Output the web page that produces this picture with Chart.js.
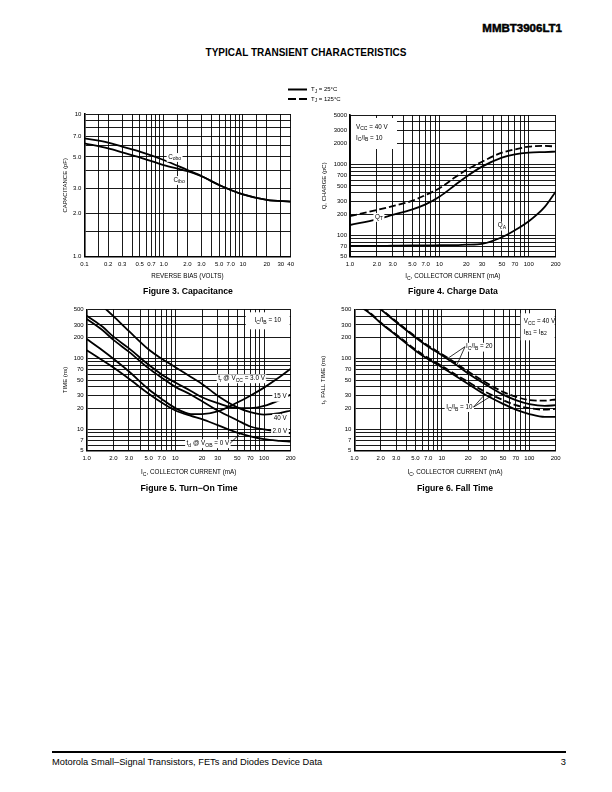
<!DOCTYPE html>
<html>
<head>
<meta charset="utf-8">
<script src="https://cdn.jsdelivr.net/npm/chart.js@4.4.1/dist/chart.umd.min.js"></script>
<style>
  html, body { margin: 0; padding: 0; background: #fff; }
  body { width: 612px; height: 792px; position: relative; overflow: hidden;
         font-family: "Liberation Sans", Arial, Helvetica, sans-serif; color: #000; }
  .txt { position: absolute; white-space: nowrap; line-height: 1; }
  canvas { position: absolute; }
</style>
</head>
<body>
<div class="txt" style="right:50px; top:22.5px; font-size:11.5px; font-weight:bold; -webkit-text-stroke:0.5px #000;">MMBT3906LT1</div>
<div class="txt" style="left:0; width:612px; text-align:center; top:48px; font-size:10px; font-weight:bold;">TYPICAL TRANSIENT CHARACTERISTICS</div>

<canvas id="legend" width="90" height="26" style="left:280px; top:82px;"></canvas>

<canvas id="cap" width="275" height="184" style="left:30px; top:100px;"></canvas>
<canvas id="charge" width="275" height="184" style="left:300px; top:100px;"></canvas>
<canvas id="turnon" width="275" height="180" style="left:30px; top:300px;"></canvas>
<canvas id="fall" width="275" height="180" style="left:300px; top:300px;"></canvas>

<div class="txt" style="left:88px; width:200px; text-align:center; top:287px; font-size:8.7px; font-weight:bold;">Figure 3. Capacitance</div>
<div class="txt" style="left:353px; width:200px; text-align:center; top:287px; font-size:8.7px; font-weight:bold;">Figure 4. Charge Data</div>
<div class="txt" style="left:89px; width:200px; text-align:center; top:484px; font-size:8.7px; font-weight:bold;">Figure 5. Turn−On Time</div>
<div class="txt" style="left:355px; width:200px; text-align:center; top:484px; font-size:8.7px; font-weight:bold;">Figure 6. Fall Time</div>

<div style="position:absolute; left:52px; width:514px; top:751px; height:2px; background:#000;"></div>
<div class="txt" style="left:52px; top:757.5px; font-size:9.3px;">Motorola Small–Signal Transistors, FETs and Diodes Device Data</div>
<div class="txt" style="right:46px; top:757.5px; font-size:9.3px;">3</div>

<script>
// ---- data ----

// Figure 3: capacitance vs reverse bias
const capBias = [0.1, 0.2, 0.3, 0.5, 1.0, 2.0, 3.0, 5.0, 10, 20, 40];
const capCobo = [6.75, 6.3, 5.9, 5.44, 4.76, 4.05, 3.68, 3.18, 2.73, 2.5, 2.43];
const capCibo = [6.23, 5.74, 5.39, 4.97, 4.39, 3.97, 3.66, 3.18, 2.73, 2.5, 2.43];
const capXGrid = [0.1, 0.15, 0.2, 0.3, 0.4, 0.5, 0.6, 0.7, 0.8, 0.9, 1, 1.5, 2, 3, 4, 5, 6, 7, 8, 9, 10, 15, 20, 30, 40];
const capXTicks = [0.1, 0.2, 0.3, 0.5, 0.7, 1, 2, 3, 5, 7, 10, 20, 30, 40];
const capXLabels = ['0.1', '0.2', '0.3', '0.5', '0.7', '1.0', '2.0', '3.0', '5.0', '7.0', '10', '20', '30', '40'];
const capYGrid = [1, 1.5, 2, 3, 4, 5, 6, 7, 8, 9, 10];
const capYTicks = [1, 2, 3, 5, 7, 10];
const capYLabels = ['1.0', '2.0', '3.0', '5.0', '7.0', '10'];

// shared collector current axis (Figures 4, 5, 6)
const icGrid = [1, 2, 3, 4, 5, 6, 7, 8, 9, 10, 20, 30, 40, 50, 60, 70, 80, 90, 100, 200];
const icTicks = [1, 2, 3, 5, 7, 10, 20, 30, 50, 70, 100, 200];
const icLabels = ['1.0', '2.0', '3.0', '5.0', '7.0', '10', '20', '30', '50', '70', '100', '200'];

// Figure 4: charge data
const chargeIc = [1, 2, 3, 5, 7, 10, 15, 20, 30, 50, 70, 100, 150, 200];
const qt25 = [140, 168, 194, 233, 274, 351, 514, 673, 933, 1250, 1393, 1470, 1500, 1520];
const qt125 = [187, 228, 259, 309, 371, 461, 660, 837, 1096, 1470, 1637, 1786, 1830, 1800];
const qa25 = [71, 71, 71.5, 72, 72, 72.5, 73, 74, 76, 94, 118, 158, 250, 414];
const chargeYGrid = [50, 60, 70, 80, 90, 100, 200, 300, 400, 500, 600, 700, 800, 900, 1000, 2000, 3000, 4000, 5000];
const chargeYTicks = [50, 70, 100, 200, 300, 500, 700, 1000, 2000, 3000, 5000];
const chargeYLabels = ['50', '70', '100', '200', '300', '500', '700', '1000', '2000', '3000', '5000'];

// Figures 5 and 6 share this time axis
const timeYGrid = [5, 6, 7, 8, 9, 10, 20, 30, 40, 50, 60, 70, 80, 90, 100, 200, 300, 400, 500];
const timeYTicks = [5, 7, 10, 20, 30, 50, 70, 100, 200, 300, 500];
const timeYLabels = ['5', '7', '10', '20', '30', '50', '70', '100', '200', '300', '500'];

// Figure 5: turn-on time
const onIc = [1, 1.5, 2, 3, 5, 7, 10, 15, 20, 30, 50, 70, 100, 150, 200];
const tr40 = [null, 560, 400, 245, 135, 100, 76, 55, 44, 30, 20.5, 17.5, 16.2, 17, 18.5];
const tr15 = [406, 285, 205, 140, 82, 60, 46, 35, 28.5, 23.5, 20, 20, 21.5, 26, 31];
const td2 = [365, 255, 185, 125, 73, 54, 40, 31, 25, 18.5, 13.5, 11, 10, 9.2, 8.8];
const tr3 = [190, 132, 100, 66, 37, 27, 20, 16.5, 16.5, 18, 24, 30, 39, 55, 72];
const td0 = [132, 95, 75, 52, 32, 24, 18.5, 15.5, 14, 11.5, 9, 8, 7.3, 6.9, 6.7];

// Figure 6: fall time
const fallIc = [1, 1.5, 2, 3, 5, 7, 10, 15, 20, 30, 50, 70, 100, 150, 200];
const tf20_25 = [null, 660, 500, 330, 200, 148, 112, 80, 62, 45, 31, 26, 22.8, 21.5, 22];
const tf20_125 = [null, 670, 510, 338, 206, 153, 116, 84, 66, 48, 34, 29, 26, 25.5, 26.5];
const tf10_25 = [620, 440, 320, 215, 130, 98, 76, 55, 44, 32, 23, 19, 16.5, 15, 15];
const tf10_125 = [630, 450, 325, 220, 135, 102, 79, 58, 47, 35, 26, 22, 20, 19, 19.5];

// ---- helpers ----
const FONT = '"Liberation Sans", Arial, Helvetica, sans-serif';

function pts(xs, ys) {
  return xs.map((x, i) => ({ x: x, y: ys[i] })).filter(p => p.y != null);
}

// log-log interpolation, used only to hang annotation leaders on a curve
function onCurve(xs, ys, x) {
  for (let i = 0; i < xs.length - 1; i++) {
    if (ys[i] == null) continue;
    if (x >= xs[i] && x <= xs[i + 1]) {
      const t = Math.log(x / xs[i]) / Math.log(xs[i + 1] / xs[i]);
      return Math.exp(Math.log(ys[i]) + t * Math.log(ys[i + 1] / ys[i]));
    }
  }
  return null;
}

// "I_{C}/I_{B}" -> pieces with subscripts
function parts(s) {
  const out = [];
  const re = /_\{([^}]*)\}/g;
  let last = 0, m;
  while ((m = re.exec(s))) {
    if (m.index > last) out.push({ t: s.slice(last, m.index), sub: false });
    out.push({ t: m[1], sub: true });
    last = re.lastIndex;
  }
  if (last < s.length) out.push({ t: s.slice(last), sub: false });
  return out;
}

function rich(ctx, s, x, y, o) {
  o = o || {};
  const size = o.size || 6.3;
  const ps = parts(s);
  let w = 0;
  ps.forEach(p => {
    ctx.font = (p.sub ? size * 0.8 : size) + 'px ' + FONT;
    p.w = ctx.measureText(p.t).width;
    w += p.w;
  });
  let x0 = o.align === 'center' ? x - w / 2 : o.align === 'right' ? x - w : x;
  const start = x0;
  if (o.bg) {
    ctx.fillStyle = '#fff';
    ctx.fillRect(x0 - 1.5, y - size * 0.62, w + 3, size * 1.4);
  }
  ctx.fillStyle = '#000';
  ctx.textAlign = 'left';
  ctx.textBaseline = 'middle';
  ps.forEach(p => {
    ctx.font = (p.sub ? size * 0.8 : size) + 'px ' + FONT;
    ctx.fillText(p.t, x0, p.sub ? y + size * 0.33 : y);
    x0 += p.w;
  });
  return { left: start, right: start + w };
}

function line(ctx, x1, y1, x2, y2, w) {
  ctx.save();
  ctx.strokeStyle = '#000';
  ctx.lineWidth = w || 0.8;
  ctx.setLineDash([]);
  ctx.beginPath();
  ctx.moveTo(x1, y1);
  ctx.lineTo(x2, y2);
  ctx.stroke();
  ctx.restore();
}

function logAxis(min, max, grid, tickVals, tickText, fitSize, isX) {
  return {
    type: 'logarithmic',
    min: min,
    max: max,
    afterBuildTicks: axis => { axis.ticks = grid.map(v => ({ value: v })); },
    afterFit: axis => { if (isX) axis.height = fitSize; else axis.width = fitSize; },
    grid: { color: '#000', lineWidth: 0.9, drawTicks: false },
    border: { display: true, color: '#000', width: 1.6 },
    ticks: {
      autoSkip: false, maxRotation: 0, minRotation: 0,
      padding: isX ? 4 : 3,
      color: '#000',
      font: { family: FONT, size: 6 },
      callback: v => {
        const i = tickVals.findIndex(t => Math.abs(t - v) / t < 1e-6);
        return i < 0 ? '' : tickText[i];
      }
    }
  };
}

// canvas position + wanted plot rectangle (page px) -> chart
function makeChart(id, canvasPos, plot, datasets, xAxis, yAxis, deco) {
  const el = document.getElementById(id);
  const pad = {
    top: plot.t - canvasPos.y,
    right: canvasPos.x + el.width - plot.r,
    left: 0,
    bottom: 0
  };
  xAxis.afterFit = a => { a.height = canvasPos.y + el.height - plot.b; };
  yAxis.afterFit = a => { a.width = plot.l - canvasPos.x; };
  return new Chart(el, {
    type: 'line',
    data: { datasets: datasets },
    options: {
      responsive: false,
      animation: false,
      events: [],
      layout: { padding: pad },
      plugins: { legend: { display: false }, tooltip: { enabled: false } },
      scales: { x: xAxis, y: yAxis }
    },
    plugins: [{
      id: 'deco_' + id,
      afterDatasetsDraw(chart) {
        const ctx = chart.ctx;
        const X = v => chart.scales.x.getPixelForValue(v);
        const Y = v => chart.scales.y.getPixelForValue(v);
        ctx.save();
        deco(ctx, chart.chartArea, X, Y);
        ctx.restore();
      }
    }]
  });
}

function curve(xs, ys, dashed) {
  return {
    data: pts(xs, ys),
    borderColor: '#000',
    borderWidth: 1.8,
    borderDash: dashed ? [7, 3] : [],
    pointRadius: 0,
    fill: false,
    cubicInterpolationMode: 'monotone'
  };
}

function yTitle(ctx, s, x, ca) {
  ctx.save();
  ctx.translate(x, (ca.top + ca.bottom) / 2);
  ctx.rotate(-Math.PI / 2);
  rich(ctx, s, 0, 0, { align: 'center', size: 6 });
  ctx.restore();
}

// ---- legend ----
(function () {
  const ctx = document.getElementById('legend').getContext('2d');
  ctx.strokeStyle = '#000';
  ctx.lineWidth = 2;
  ctx.beginPath(); ctx.moveTo(8, 7.5); ctx.lineTo(27, 7.5); ctx.stroke();
  ctx.setLineDash([8, 3]);
  ctx.beginPath(); ctx.moveTo(8, 17); ctx.lineTo(27, 17); ctx.stroke();
  ctx.setLineDash([]);
  rich(ctx, 'T_{J} = 25°C', 31, 7.5, { size: 6 });
  rich(ctx, 'T_{J} = 125°C', 31, 17, { size: 6 });
})();

// ---- Figure 3 ----
makeChart('cap', { x: 30, y: 100 }, { l: 84.3, t: 114, r: 290.7, b: 256.7 },
  [curve(capBias, capCobo), curve(capBias, capCibo)],
  logAxis(0.1, 40, capXGrid, capXTicks, capXLabels, 0, true),
  logAxis(1, 10, capYGrid, capYTicks, capYLabels, 0, false),
  (ctx, ca, X, Y) => {
    rich(ctx, 'C_{obo}', X(1.14), Y(5.0), { bg: true });
    rich(ctx, 'C_{ibo}', X(1.33), Y(3.45), { bg: true });
    yTitle(ctx, 'CAPACITANCE (pF)', ca.left - 19, ca);
    rich(ctx, 'REVERSE BIAS (VOLTS)', (ca.left + ca.right) / 2, ca.bottom + 19.5, { align: 'center', size: 6.3 });
  });

// ---- Figure 4 ----
makeChart('charge', { x: 300, y: 100 }, { l: 350, t: 115, r: 555.7, b: 256.7 },
  [curve(chargeIc, qt125, true), curve(chargeIc, qt25), curve(chargeIc, qa25)],
  logAxis(1, 200, icGrid, icTicks, icLabels, 0, true),
  logAxis(50, 5000, chargeYGrid, chargeYTicks, chargeYLabels, 0, false),
  (ctx, ca, X, Y) => {
    ctx.fillStyle = '#fff';
    ctx.fillRect(ca.left + 1, ca.top + 3, 46, 31);
    rich(ctx, 'V_{CC} = 40 V', ca.left + 6, ca.top + 12);
    rich(ctx, 'I_{C}/I_{B} = 10', ca.left + 6, ca.top + 23);
    rich(ctx, 'Q_{T}', X(1.9), Y(182), { bg: true });
    rich(ctx, 'Q_{A}', X(45), Y(137), { bg: true });
    yTitle(ctx, 'Q, CHARGE (pC)', ca.left - 26, ca);
    rich(ctx, 'I_{C}, COLLECTOR CURRENT (mA)', (ca.left + ca.right) / 2, ca.bottom + 19.5, { align: 'center', size: 6.3 });
  });

// ---- Figure 5 ----
makeChart('turnon', { x: 30, y: 300 }, { l: 86.7, t: 309.3, r: 290.7, b: 450.7 },
  [curve(onIc, tr40), curve(onIc, tr15), curve(onIc, td2), curve(onIc, tr3), curve(onIc, td0)],
  logAxis(1, 200, icGrid, icTicks, icLabels, 0, true),
  logAxis(5, 500, timeYGrid, timeYTicks, timeYLabels, 0, false),
  (ctx, ca, X, Y) => {
    ctx.fillStyle = '#fff';
    ctx.fillRect(ca.right - 45, ca.top + 3, 44, 17);
    rich(ctx, 'I_{C}/I_{B} = 10', ca.right - 23, ca.top + 11, { align: 'center' });

    const a = rich(ctx, 't_{r} @ V_{CC} = 3.0 V', X(30.4), Y(52.9), { bg: true });
    line(ctx, a.right + 1, Y(52.9), X(140), Y(onCurve(onIc, tr3, 140)));
    rich(ctx, '15 V', X(129), Y(29), { bg: true });
    rich(ctx, '40 V', X(129), Y(14.6), { bg: true });
    line(ctx, X(158), Y(14.6) - 3.5, X(158), Y(onCurve(onIc, tr40, 158)));
    rich(ctx, '2.0 V', X(125), Y(9.5), { bg: true });
    const c = rich(ctx, 't_{d} @ V_{OB} = 0 V', X(13.4), Y(6.37), { bg: true });
    line(ctx, c.right + 1, Y(6.37), X(54), Y(onCurve(onIc, td0, 54)));

    yTitle(ctx, 'TIME (ns)', ca.left - 21, ca);
    rich(ctx, 'I_{C}, COLLECTOR CURRENT (mA)', (ca.left + ca.right) / 2, ca.bottom + 21.5, { align: 'center', size: 6.3 });
  });

// ---- Figure 6 ----
makeChart('fall', { x: 300, y: 300 }, { l: 354.3, t: 309.3, r: 555.7, b: 450.7 },
  [curve(fallIc, tf20_125, true), curve(fallIc, tf20_25), curve(fallIc, tf10_125, true), curve(fallIc, tf10_25)],
  logAxis(1, 200, icGrid, icTicks, icLabels, 0, true),
  logAxis(5, 500, timeYGrid, timeYTicks, timeYLabels, 0, false),
  (ctx, ca, X, Y) => {
    ctx.fillStyle = '#fff';
    ctx.fillRect(ca.right - 35, ca.top + 4, 34, 27);
    rich(ctx, 'V_{CC} = 40 V', ca.right - 32, ca.top + 12);
    rich(ctx, 'I_{B1} = I_{B2}', ca.right - 32, ca.top + 22.5);

    const a = rich(ctx, 'I_{C}/I_{B} = 20', X(18.9), Y(148), { bg: true });
    line(ctx, a.left - 1, Y(148), X(11.5), Y(onCurve(fallIc, tf20_25, 11.5)));
    line(ctx, a.left - 1, Y(148), X(15), Y(onCurve(fallIc, tf20_125, 15)));
    const b = rich(ctx, 'I_{C}/I_{B} = 10', X(11.2), Y(20.7), { bg: true });
    line(ctx, b.right + 1, Y(20.7), X(31), Y(onCurve(fallIc, tf10_25, 31)));
    line(ctx, b.right + 1, Y(20.7), X(38), Y(onCurve(fallIc, tf10_125, 38)));

    yTitle(ctx, 't_{f}, FALL TIME (ns)', ca.left - 31, ca);
    rich(ctx, 'I_{C}, COLLECTOR CURRENT (mA)', (ca.left + ca.right) / 2, ca.bottom + 21.5, { align: 'center', size: 6.3 });
  });
</script>
</body>
</html>
